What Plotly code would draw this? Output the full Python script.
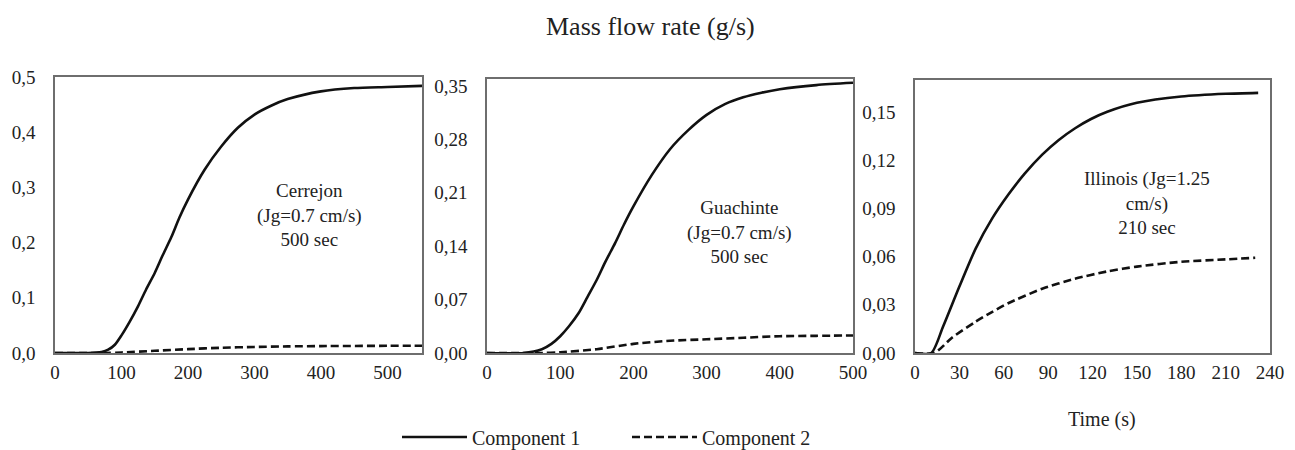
import plotly.graph_objects as go

# ---- data ----
t_cer_c1 = [0, 50, 70, 80, 90, 100, 112, 125, 137, 150, 162, 175, 187, 200, 225, 250, 275, 300, 325, 350, 400, 450, 500, 552]
v_cer_c1 = [0, 0, 0.002, 0.006, 0.015, 0.032, 0.056, 0.085, 0.115, 0.145, 0.177, 0.21, 0.245, 0.278, 0.332, 0.374, 0.408, 0.432, 0.448, 0.46, 0.474, 0.48, 0.482, 0.484]
t_cer_c2 = [0, 75, 100, 150, 200, 250, 300, 350, 400, 500, 552]
v_cer_c2 = [0, 0, 0.001, 0.004, 0.007, 0.0095, 0.011, 0.012, 0.0125, 0.013, 0.013]

t_gua_c1 = [0, 50, 75, 88, 100, 112, 125, 137, 150, 162, 175, 187, 200, 225, 250, 275, 300, 325, 350, 375, 400, 450, 500]
v_gua_c1 = [0, 0, 0.005, 0.012, 0.022, 0.035, 0.052, 0.073, 0.096, 0.12, 0.144, 0.168, 0.192, 0.233, 0.267, 0.292, 0.312, 0.326, 0.335, 0.341, 0.3456, 0.351, 0.354]
t_gua_c2 = [0, 75, 100, 150, 200, 250, 300, 350, 400, 450, 500]
v_gua_c2 = [0, 0, 0.001, 0.005, 0.012, 0.016, 0.018, 0.020, 0.022, 0.0225, 0.023]

t_ill_c1 = [0, 11, 19, 30, 41, 52, 63, 74, 86, 97, 108, 119, 130, 150, 180, 210, 232]
v_ill_c1 = [0, 0, 0.0165, 0.0414, 0.065, 0.0835, 0.0985, 0.1115, 0.1235, 0.1325, 0.1398, 0.1457, 0.1502, 0.1558, 0.1597, 0.1614, 0.162]
t_ill_c2 = [0, 13, 25, 41, 52, 63, 86, 108, 130, 150, 180, 210, 230]
v_ill_c2 = [0, 0, 0.0095, 0.0195, 0.0255, 0.031, 0.0400, 0.0462, 0.0508, 0.0538, 0.0568, 0.0583, 0.0593]

series_names = ["Component 1", "Component 2"]
panel_labels = ["Cerrejon<br>(Jg=0.7 cm/s)<br>500 sec",
                "Guachinte<br>(Jg=0.7 cm/s)<br>500 sec",
                "Illinois (Jg=1.25<br>cm/s)<br>210 sec"]
title_text = "Mass flow rate (g/s)"
xlabel_text = "Time (s)"

FONT = "Liberation Serif, Times New Roman, serif"
TXT = "#222222"

# page has a default 8px body margin: map reference pixel coords to figure coords
OFF = 8
FW, FH = 1295, 460
PH = 353 - OFF                # plot-area height (px)
MB = FH - PH                  # bottom margin (legend & labels live there)

fig = go.Figure()

panels = [
    (t_cer_c1, v_cer_c1, t_cer_c2, v_cer_c2),
    (t_gua_c1, v_gua_c1, t_gua_c2, v_gua_c2),
    (t_ill_c1, v_ill_c1, t_ill_c2, v_ill_c2),
]
for i, (tx1, vy1, tx2, vy2) in enumerate(panels):
    ax = "" if i == 0 else str(i + 1)
    fig.add_trace(go.Scatter(x=tx1, y=vy1, mode="lines", name=series_names[0],
                             line=dict(color="#111111", width=2.6, shape="spline", smoothing=0.7),
                             xaxis="x" + ax, yaxis="y" + ax, showlegend=(i == 0),
                             legendgroup="c1"))
    fig.add_trace(go.Scatter(x=tx2, y=vy2, mode="lines", name=series_names[1],
                             line=dict(color="#111111", width=2.6, dash="8px,4px", shape="spline", smoothing=0.7),
                             xaxis="x" + ax, yaxis="y" + ax, showlegend=(i == 0),
                             legendgroup="c2"))

def px2x(p):
    return (p - OFF) / FW

def px2y(p):
    return (PH - (p - OFF)) / PH

xdoms = [(55, 422), (487, 853), (915, 1270)]
ytops = [77, 79, 80]
ybot = 353
xranges = [[0, 552], [0, 500], [0, 240]]
yranges = [[0, 0.5], [0, 0.359], [0, 0.17]]
xdticks = [100, 100, 30]
ydticks = [0.1, 0.07, 0.03]
yfmts = [".1f", ".2f", ".2f"]

axis_common = dict(showline=True, linecolor="#6e6e6e", linewidth=1.6, mirror=True,
                   showgrid=False, zeroline=False, ticks="", automargin=False,
                   tickfont=dict(family=FONT, size=19, color=TXT))

layout = dict(
    width=FW, height=FH,
    margin=dict(l=0, r=0, t=0, b=MB, pad=0),
    paper_bgcolor="white", plot_bgcolor="white",
    separators=",.",
    font=dict(family=FONT, color=TXT),
    showlegend=True,
    legend=dict(orientation="h", x=px2x(397), xanchor="left", y=px2y(437), yanchor="middle",
                font=dict(family=FONT, size=20, color=TXT),
                itemwidth=65, entrywidth=150, entrywidthmode="pixels",
                bgcolor="rgba(0,0,0,0)"),
)
for i in range(3):
    sfx = "" if i == 0 else str(i + 1)
    xa = dict(axis_common, domain=[px2x(xdoms[i][0]), px2x(xdoms[i][1])],
              range=xranges[i], dtick=xdticks[i], tick0=0, anchor="y" + sfx,
              ticklabelstandoff=1)
    ya = dict(axis_common, domain=[max(0, px2y(ybot)), px2y(ytops[i])],
              range=yranges[i], dtick=ydticks[i], tick0=0, anchor="x" + sfx,
              tickformat=yfmts[i], ticklabelstandoff=14)
    layout["xaxis" + sfx] = xa
    layout["yaxis" + sfx] = ya

fig.update_layout(**layout)

# panel annotations (data coords)
ann_pos = [(383, 0.25, "x", "y"), (345, 0.159, "x2", "y2"), (157, 0.0934, "x3", "y3")]
for (ax_x, ax_y, xr, yr), txt in zip(ann_pos, panel_labels):
    fig.add_annotation(x=ax_x, y=ax_y, xref=xr, yref=yr, text=txt, showarrow=False,
                       xanchor="center", yanchor="middle",
                       font=dict(family=FONT, size=19, color=TXT), align="center")

fig.add_annotation(x=px2x(650), y=px2y(27), xref="paper", yref="paper", text=title_text,
                   xanchor="center", yanchor="middle",
                   showarrow=False, font=dict(family=FONT, size=26, color=TXT))
fig.add_annotation(x=px2x(1102), y=px2y(419), xref="paper", yref="paper", text=xlabel_text,
                   xanchor="center", yanchor="middle",
                   showarrow=False, font=dict(family=FONT, size=20, color=TXT))

fig.write_html("out.html")
